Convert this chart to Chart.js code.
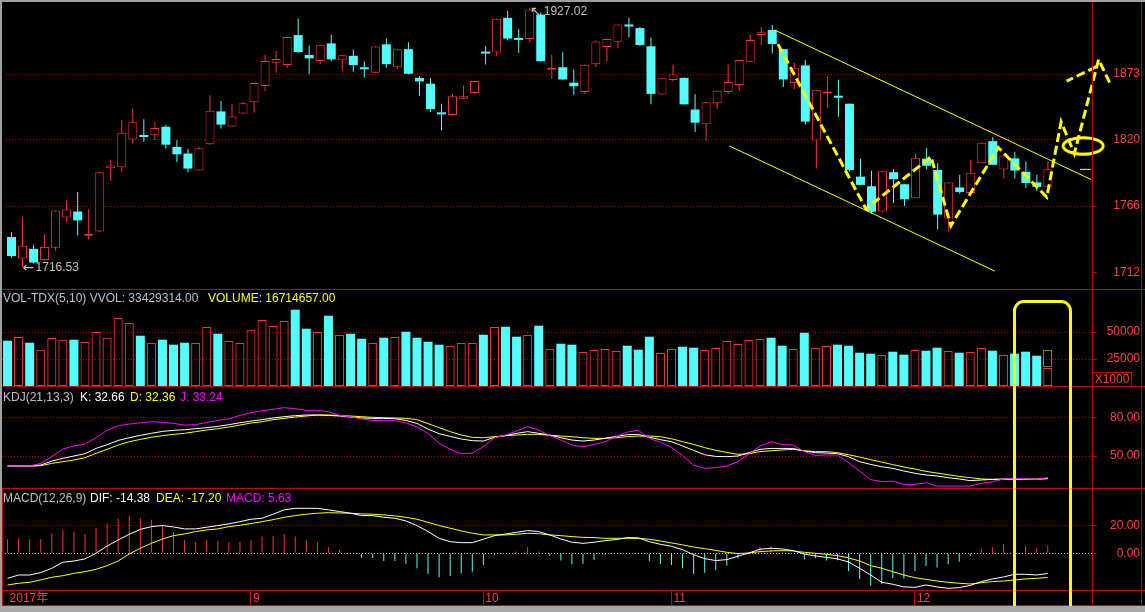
<!DOCTYPE html>
<html>
<head>
<meta charset="utf-8">
<script src="https://cdn.jsdelivr.net/npm/chart.js@4.4.1/dist/chart.umd.min.js"></script>
<style>
  html, body { margin:0; padding:0; background:#000; }
  #wrap { position:relative; width:1145px; height:612px; overflow:hidden; background:#000;
          font-family:'Liberation Sans', Arial, 'Noto Sans CJK SC', sans-serif; font-size:12px; }
  #clip { position:absolute; left:0; top:0; width:1145px; height:606px; overflow:hidden; }
  canvas { position:absolute; left:0; }
  .ln { position:absolute; background:#c80000; }
  .hdr { position:absolute; white-space:pre; font-size:12px; line-height:14px; }
  #hbox { position:absolute; box-sizing:border-box; border:3px solid #ffff00; border-radius:11px 11px 6px 6px; top:300px; height:320px; }
  #x1000 { position:absolute; left:1092px; top:372px; width:40px; height:15px; box-sizing:border-box;
           border:1px solid #c80000; color:#ff4040; font-size:12px; line-height:13px; text-align:center; }
</style>
</head>
<body>
<div id="wrap">
  <div id="clip">
    <canvas id="cPrice" width="1140" height="289" style="top:0px"></canvas>
    <canvas id="cVol" width="1140" height="97" style="top:289px"></canvas>
    <canvas id="cKdj" width="1140" height="102" style="top:386px"></canvas>
    <canvas id="cMacd" width="1140" height="117" style="top:488px"></canvas>

    <div class="ln" style="left:0;top:289px;width:1145px;height:1px"></div>
    <div class="ln" style="left:0;top:386px;width:1145px;height:1px"></div>
    <div class="ln" style="left:0;top:488px;width:1145px;height:1px"></div>
    <div class="ln" style="left:0;top:590px;width:1145px;height:1px"></div>
    <div class="ln" style="left:0;top:605px;width:1145px;height:1px"></div>
    <div class="ln" style="left:1092px;top:0;width:1px;height:606px"></div>
    <div class="ln" style="left:1141px;top:0;width:1px;height:606px"></div>
    <div class="ln" style="left:2px;top:488px;width:1px;height:118px"></div>

    <div class="hdr" id="hVol" style="left:3px;top:291px;color:#c0c0c0"></div>
    <div class="hdr" id="hVolume" style="left:208px;top:291px;color:#ffff00"></div>
    <div class="hdr" style="left:3px;top:390px;color:#c0c0c0">KDJ(21,13,3)</div>
    <div class="hdr" id="hK" style="left:80px;top:390px;color:#ffffff"></div>
    <div class="hdr" id="hD" style="left:130px;top:390px;color:#ffff00"></div>
    <div class="hdr" id="hJ" style="left:180px;top:390px;color:#ff00ff"></div>
    <div class="hdr" style="left:3px;top:491px;color:#c0c0c0">MACD(12,26,9)</div>
    <div class="hdr" id="hDif" style="left:90px;top:491px;color:#ffffff"></div>
    <div class="hdr" id="hDea" style="left:156px;top:491px;color:#ffff00"></div>
    <div class="hdr" id="hMacd" style="left:226px;top:491px;color:#ff00ff"></div>
    <div id="x1000">X1000</div>
    <div id="hbox"></div>
  </div>
  <div style="position:absolute;left:0;top:0;width:1145px;height:2px;background:#a0a0a0"></div>
  <div style="position:absolute;left:0;top:0;width:2px;height:612px;background:#a0a0a0"></div>
  <div style="position:absolute;left:0;top:606px;width:1145px;height:6px;background:#a8a8a8"></div>
</div>
<script>
// ================= DATA =================
const monthTickIdx = [0, 22, 43, 60, 82];
const monthTickLabels = ['2017年', '9', '10', '11', '12'];

const opens = [1740.9,1723.5,1731.3,1722.2,1732.1,1756.7,1761.6,1742.0,1745.3,1796.6,
1797.4,1820.0,1822.5,1823.9,1830.3,1814.0,1808.6,1794.8,1816.1,1842.8,
1830.6,1841.0,1850.3,1863.5,1882.2,1880.4,1904.7,1888.6,1883.7,1898.0,
1884.2,1887.9,1877.5,1874.1,1897.2,1879.1,1893.3,1870.0,1865.3,1841.0,
1839.9,1853.1,1857.8,1890.2,1890.5,1918.7,1901.4,1901.6,1921.3,1876.5,
1878.6,1866.1,1858.6,1881.1,1895.1,1899.3,1912.2,1910.4,1895.6,1856.5,
1868.2,1870.0,1844.3,1832.4,1849.5,1858.6,1864.3,1883.0,1904.7,1908.9,
1893.3,1865.8,1880.1,1819.2,1857.3,1854.7,1849.0,1789.9,1782.1,1761.6,
1793.5,1783.7,1772.3,1804.4,1795.3,1755.9,1781.1,1776.7,1800.8,1818.7,
1795.6,1804.7,1793.8,1785.2,1781.6];
const highs = [1744.8,1757.2,1734.7,1743.2,1762.6,1770.7,1777.4,1763.4,1793.8,1803.1,
1835.8,1845.1,1836.5,1834.2,1831.9,1819.4,1812.4,1814.3,1856.0,1851.3,
1849.0,1850.5,1866.0,1888.6,1891.8,1903.4,1918.2,1896.4,1897.0,1905.0,
1888.6,1893.1,1883.2,1895.6,1901.9,1893.5,1898.8,1871.6,1869.7,1849.0,
1856.8,1863.8,1867.5,1895.6,1918.1,1924.4,1909.6,1927.02,1923.0,1888.6,
1891.0,1877.0,1880.8,1900.3,1901.8,1913.5,1918.7,1911.2,1902.7,1869.9,
1880.9,1870.2,1856.8,1850.5,1859.8,1880.9,1884.7,1905.0,1911.2,1912.8,
1893.5,1882.2,1884.7,1860.6,1871.6,1868.4,1849.2,1804.4,1794.6,1794.5,
1796.1,1783.9,1808.6,1813.2,1800.8,1785.4,1791.5,1803.1,1817.6,1822.0,
1807.2,1810.1,1802.3,1791.5,1802.1];
const lows = [1724.1,1716.53,1719.4,1721.5,1729.5,1752.8,1742.2,1738.8,1745.0,1786.3,
1793.5,1816.6,1818.2,1819.7,1812.7,1801.8,1793.3,1794.6,1815.8,1829.0,
1830.4,1840.8,1841.7,1859.4,1874.1,1878.3,1890.2,1873.3,1881.1,1883.5,
1875.7,1874.9,1870.3,1873.9,1878.3,1877.2,1873.0,1855.2,1842.3,1827.5,
1839.7,1852.9,1857.6,1880.9,1887.9,1900.6,1890.2,1899.0,1883.0,1869.2,
1868.5,1856.3,1857.0,1878.8,1883.5,1894.3,1902.9,1895.9,1848.5,1856.3,
1867.1,1848.3,1826.0,1819.0,1844.9,1857.0,1859.4,1882.8,1896.7,1889.7,
1862.5,1860.7,1832.1,1796.4,1845.4,1838.4,1794.0,1783.0,1759.8,1761.4,
1768.4,1766.1,1772.1,1795.6,1746.9,1745.3,1775.9,1776.5,1800.6,1799.3,
1788.3,1788.3,1780.6,1778.0,1781.4];
const closes = [1725.4,1733.9,1720.2,1732.9,1762.4,1763.2,1754.4,1742.4,1793.5,1799.0,
1825.4,1834.0,1822.0,1829.3,1815.8,1808.0,1796.4,1813.0,1843.3,1832.1,
1838.6,1849.5,1865.8,1883.7,1885.3,1903.2,1891.0,1885.8,1896.9,1885.0,
1888.4,1880.4,1877.0,1895.4,1881.1,1893.3,1873.3,1867.1,1844.6,1840.4,
1855.0,1855.0,1867.4,1889.7,1917.9,1901.9,1900.8,1925.5,1883.5,1877.5,
1868.7,1863.2,1880.6,1899.5,1901.6,1913.3,1911.7,1896.7,1857.0,1869.7,
1872.8,1848.5,1833.7,1850.3,1859.6,1866.6,1884.5,1900.8,1907.0,1897.5,
1868.7,1878.3,1834.5,1860.4,1857.8,1853.9,1795.3,1783.2,1761.4,1794.3,
1787.8,1771.5,1805.2,1798.7,1759.1,1785.2,1777.5,1793.0,1817.4,1799.5,
1807.0,1794.8,1784.7,1781.6,1795.8];

// volume in thousands (axis shows X1000)
const volumes = [41940,45300,40090,33610,44400,42860,42860,40700,49960,44720,
62930,58300,46570,39780,42860,38240,40090,39780,54590,48420,
41630,39780,52120,61080,55520,60150,70650,53050,49960,65080,
47190,48420,43790,39780,44720,45330,50270,44720,41010,38240,
37000,39780,39780,47490,54590,54900,45640,47190,55830,34220,
39160,38240,31450,33300,34220,32370,37310,33610,45640,30520,
34220,36380,35460,33300,35150,41630,38850,42550,43480,44720,
37310,34220,49340,35150,37000,38240,37310,30830,29900,28670,
31760,28980,33300,32680,35460,32370,30830,31450,35150,32680,
28670,29900,31760,28050,16714.657];
const vvolEstimate = 33429.314;

const kValues = [42.2,42.2,42.2,43.0,46.1,48.2,50.0,51.8,55.9,58.8,
62.1,64.2,66.0,67.6,69.1,69.9,70.4,71.2,72.0,73.0,
74.3,75.8,77.1,78.2,79.5,80.5,81.3,81.8,81.8,81.5,
81.0,80.2,79.5,79.2,79.2,78.9,77.6,75.3,70.9,67.3,
65.2,63.2,61.9,61.6,64.5,65.8,67.6,68.9,67.6,66.3,
64.2,62.4,61.6,62.4,63.7,65.2,66.5,66.8,64.5,62.7,
61.1,57.8,54.4,51.0,49.7,49.5,50.0,52.6,55.2,55.9,
55.9,55.9,53.9,52.6,52.3,51.8,49.5,45.6,43.5,41.7,
40.4,38.4,36.6,35.3,34.5,33.2,32.2,30.9,31.4,31.9,
32.2,32.2,31.9,31.9,32.66];
const dValues = [42.2,42.2,42.2,42.5,44.3,45.6,46.9,48.7,52.1,55.2,
58.5,61.1,62.9,64.5,65.8,66.8,67.6,68.9,70.2,71.2,
72.5,74.0,75.6,76.6,78.2,79.2,80.2,81.0,81.8,81.8,
81.5,81.0,80.5,80.0,79.7,79.5,79.2,78.2,75.1,72.0,
68.9,66.3,64.5,64.2,65.0,65.8,66.3,66.8,66.8,66.0,
65.5,65.0,64.2,63.7,63.7,64.2,65.0,65.5,65.5,65.0,
63.4,61.1,59.0,56.5,54.4,52.8,51.3,51.8,53.4,54.1,
54.7,55.2,54.1,53.4,53.4,52.6,51.0,49.2,47.2,45.3,
43.3,41.5,39.9,38.1,36.8,35.5,34.2,33.2,32.2,31.9,
31.9,32.0,32.1,32.2,32.36];
const jValues = [42.2,42.2,42.2,44.3,49.5,55.4,57.8,59.3,64.2,69.9,
73.5,74.8,75.8,76.6,76.1,75.3,74.0,74.3,76.1,77.6,
78.9,81.5,83.6,85.1,86.2,87.5,86.7,85.4,85.4,84.4,
81.5,80.5,78.7,77.6,77.4,77.4,75.8,72.5,67.6,59.8,
55.2,51.8,52.3,57.2,64.2,66.3,69.4,72.7,70.2,65.8,
62.4,58.5,57.2,59.0,61.1,65.0,68.6,69.9,63.7,60.6,
56.7,50.3,43.0,40.4,41.0,42.2,45.6,51.6,57.8,61.1,
59.0,58.5,53.4,50.5,50.8,50.8,44.8,38.4,31.7,30.1,
30.6,28.0,28.0,29.3,26.7,26.7,26.7,26.7,28.8,30.1,
32.2,32.9,32.2,31.9,33.24];

const macdValues = [10.0,10.7,10.0,10.0,14.3,16.7,15.5,13.8,18.1,21.0,
24.8,26.7,25.2,24.0,20.0,15.2,9.5,8.1,9.5,8.8,
7.9,8.1,9.5,11.9,12.4,13.8,11.9,9.5,8.1,4.5,
2.4,0.3,-3.1,-3.3,-5.5,-5.5,-7.4,-10.7,-14.8,-17.1,
-16.2,-14.5,-13.1,-8.3,-1.0,0.3,1.2,4.5,1.2,-1.7,
-5.2,-7.9,-7.4,-4.8,-1.4,-0.3,0.7,-0.5,-5.5,-7.6,
-8.3,-10.7,-14.8,-13.8,-11.9,-8.8,-3.8,0.5,4.5,5.2,
1.0,0.5,-4.5,-3.6,-5.2,-5.0,-12.6,-18.3,-23.1,-21.9,
-17.9,-18.1,-12.6,-9.0,-10.2,-7.9,-6.0,-1.9,3.1,4.5,
6.7,6.7,5.2,3.8,5.63];
const difValues = [-17.9,-15.5,-15.5,-13.8,-10.7,-6.4,-5.5,-4.0,0.0,5.2,
9.5,13.6,17.1,19.0,19.8,18.8,17.4,17.4,18.6,19.8,
21.0,22.6,24.3,25.0,27.9,31.0,32.1,32.1,32.1,31.0,
29.8,28.6,26.9,26.9,25.7,25.0,23.1,19.8,15.5,10.7,
8.3,7.6,7.6,10.0,12.6,13.8,15.0,16.2,15.5,13.1,
10.2,7.9,7.1,7.9,9.0,9.8,11.2,11.0,8.3,6.4,
5.0,2.6,-1.0,-3.8,-5.2,-4.5,-2.1,0.2,2.9,3.6,
3.1,1.9,-0.5,-1.9,-2.9,-4.0,-6.2,-10.7,-15.5,-20.7,
-22.1,-24.0,-24.3,-22.6,-24.0,-25.0,-24.5,-22.9,-20.2,-18.3,
-16.9,-15.0,-15.0,-15.5,-14.38];
const deaValues = [-22.6,-21.4,-20.7,-19.0,-17.1,-16.0,-14.3,-13.1,-11.4,-8.8,
-5.5,-0.5,3.6,7.1,10.2,12.6,13.8,15.5,16.7,17.4,
19.0,20.0,21.2,22.6,24.0,25.7,26.9,27.9,28.6,29.0,
28.8,28.6,28.1,27.9,27.4,26.7,25.7,24.3,22.1,19.8,
17.9,16.0,14.3,13.1,13.1,13.1,13.6,14.3,14.0,13.1,
12.6,11.9,11.4,11.2,10.7,10.7,10.7,10.7,10.0,8.8,
7.4,6.0,4.5,3.3,2.1,0.7,-0.2,0.2,1.2,1.7,
1.9,1.7,0.7,0.0,-0.7,-1.7,-3.3,-5.5,-8.8,-10.7,
-13.1,-15.5,-17.4,-18.6,-19.8,-20.7,-21.4,-21.9,-21.0,-20.2,
-19.8,-19.0,-18.3,-17.9,-17.20];

const priceTicks = [1712, 1766, 1820, 1873];
const volumeTicks = [25000, 50000];
const kdjTicks = [50, 80];
const macdTicks = [0, 20];

// hand-drawn annotations (in candle-index / price coordinates)
const channelUpper = [{x: 69.2, y: 1908.9}, {x: 97.9, y: 1787.6}];
const channelLower = [{x: 65.1, y: 1814.8}, {x: 89.2, y: 1713.2}];
const forecastPath = [{x: 69.4, y: 1899.3}, {x: 77.5, y: 1763.7}, {x: 83.4, y: 1806.0},
  {x: 85.2, y: 1750.0}, {x: 89.5, y: 1813.5}, {x: 93.9, y: 1773.3}, {x: 95.2, y: 1834.4},
  {x: 96.4, y: 1808.6}, {x: 98.6, y: 1885.0}, {x: 99.6, y: 1866.1}];
const forecastArm = [{x: 95.7, y: 1867.4}, {x: 98.4, y: 1879.1}];
const targetMark = {x: 97.2, y: 1814.8};
const closeMarkSpan = [96.9, 97.9];
const highlightSpan = [90.96, 96.07];

// ================= STYLE =================
const RED = '#ff3232', CYAN = '#54fcfc', YEL = '#ffff00', MAG = '#ff00ff', WHITE = '#ffffff';
const FRAME = '#c80000', GRID = '#b00000', LABEL = '#ff4040';
const FONT = "'Liberation Sans', Arial, 'Noto Sans CJK SC', sans-serif";
Chart.defaults.font.family = FONT;
Chart.defaults.font.size = 12;
Chart.defaults.animation = false;
Chart.defaults.events = [];

const N = opens.length;
const isUp = i => i !== undefined && closes[i] >= opens[i];
const pts = arr => arr.map((v, i) => ({x: i, y: v}));

function xAxis(show) {
  return {
    type: 'linear', min: -0.5, max: 98, bounds: 'data', offset: false, display: show,
    grid: { offset: false, drawOnChartArea: false, drawTicks: true, tickLength: 15,
            tickColor: c => (c.tick && c.tick.value === 0) ? 'rgba(0,0,0,0)' : FRAME, tickWidth: 1 },
    border: { display: false },
    afterBuildTicks: s => { s.ticks = monthTickIdx.map(v => ({value: v})); },
    afterFit: s => { if (show) s.height = 15; s.paddingLeft = 0; s.paddingRight = 0; },
    ticks: { color: LABEL, align: 'start', padding: -14, maxRotation: 0, minRotation: 0, autoSkip: false,
             labelOffset: 2, font: {size: 12},
             callback: v => monthTickLabels[monthTickIdx.indexOf(v)] }
  };
}
function yAxis(min, max, ticks, fmt, gridColor) {
  return {
    type: 'linear', position: 'right', min, max, bounds: 'data', beginAtZero: false,
    afterBuildTicks: s => { s.ticks = ticks.map(v => ({value: v})); },
    afterFit: s => { s.width = 48; s.paddingTop = 0; s.paddingBottom = 0; },
    ticks: { color: LABEL, padding: 4, crossAlign: 'far', autoSkip: false, font: {size: 12}, callback: v => fmt(v) },
    grid: { color: gridColor || GRID, lineWidth: 1, drawTicks: true, tickLength: 5, tickColor: FRAME, tickWidth: 1 },
    border: { display: false, dash: [1, 2] }
  };
}
function opts(yCfg, showX) {
  return {
    responsive: false, maintainAspectRatio: false, animation: false,
    layout: { padding: { left: 2, right: 0, top: 0, bottom: 0 } },
    plugins: { legend: {display: false}, tooltip: {enabled: false} },
    scales: { x: xAxis(showX), y: yCfg }
  };
}

// ellipse marker style
const ell = document.createElement('canvas');
ell.width = 46; ell.height = 22;
(function () { const c = ell.getContext('2d'); c.strokeStyle = YEL; c.lineWidth = 3;
  c.beginPath(); c.ellipse(23, 11, 20, 8.3, 0, 0, Math.PI * 2); c.stroke(); })();

const extremeLabels = {
  id: 'extremeLabels',
  afterDatasetsDraw(chart) {
    const {ctx, chartArea} = chart; const x = chart.scales.x, y = chart.scales.y;
    const hi = highs.indexOf(Math.max(...highs));
    const lo = lows.indexOf(Math.min(...lows));
    ctx.save();
    ctx.fillStyle = '#c0c0c0';
    ctx.textBaseline = 'middle'; ctx.textAlign = 'left';
    const hx = x.getPixelForValue(hi), hy = Math.max(y.getPixelForValue(highs[hi]), chartArea.top + 6);
    const lx = x.getPixelForValue(lo), ly = y.getPixelForValue(lows[lo]) + 1;
    ctx.font = "14px 'DejaVu Sans', sans-serif";
    ctx.fillText('\u2196', hx, hy);
    ctx.fillText('\u2190', lx, ly);
    ctx.font = '12px ' + FONT;
    ctx.fillText(highs[hi].toFixed(2), hx + 14, hy);
    ctx.fillText(lows[lo].toFixed(2), lx + 13, ly);
    ctx.restore();
  }
};

const priceChart = new Chart(document.getElementById('cPrice'), {
  type: 'bar',
  data: { datasets: [
    { type: 'line', order: 0, data: forecastPath.slice().reverse(), borderColor: YEL, borderWidth: 3,
      borderDash: [9, 4], pointRadius: 0, tension: 0, clip: false, fill: false },
    { type: 'line', order: 0, data: forecastArm.slice().reverse(), borderColor: YEL, borderWidth: 3,
      borderDash: [9, 4], pointRadius: 0, tension: 0, clip: false, fill: false },
    { type: 'line', order: 0, data: [targetMark], showLine: false, pointStyle: ell, pointRadius: 5, clip: false },
    { type: 'line', order: 0, data: channelUpper, borderColor: YEL, borderWidth: 1, pointRadius: 0, tension: 0, clip: false },
    { type: 'line', order: 0, data: channelLower, borderColor: YEL, borderWidth: 1, pointRadius: 0, tension: 0, clip: false },
    { type: 'line', order: 0, data: closeMarkSpan.map(v => ({x: v, y: closes[N - 1]})), borderColor: YEL, borderWidth: 1, pointRadius: 0, clip: false },
    { type: 'bar', order: 1, grouped: false, data: opens.map((o, i) => ({x: i, y: [o, closes[i]]})),
      backgroundColor: c => isUp(c.dataIndex) ? '#000000' : CYAN,
      borderColor: c => isUp(c.dataIndex) ? RED : CYAN,
      borderWidth: c => isUp(c.dataIndex) ? 1 : 0,
      borderSkipped: false, barThickness: 9, minBarLength: 2, inflateAmount: 0 },
    { type: 'bar', order: 2, grouped: false, data: lows.map((l, i) => ({x: i, y: [l, highs[i]]})),
      backgroundColor: c => isUp(c.dataIndex) ? RED : CYAN, borderWidth: 0,
      borderSkipped: false, barThickness: 1, inflateAmount: 0 }
  ]},
  options: opts(yAxis(1703.6, 1928.3, priceTicks, v => String(v),
                      c => (c.tick && c.tick.value === 1712) ? 'rgba(0,0,0,0)' : GRID), false),
  plugins: [extremeLabels]
});

const vvolBox = {
  id: 'vvolBox',
  afterDatasetsDraw(chart) {
    const {ctx} = chart; const x = chart.scales.x, y = chart.scales.y;
    const i = volumes.length - 1;
    const cx = x.getPixelForValue(i);
    const top = y.getPixelForValue(vvolEstimate), bot = y.getPixelForValue(volumes[i]);
    ctx.save(); ctx.strokeStyle = YEL; ctx.lineWidth = 1; ctx.setLineDash([1, 1]);
    ctx.strokeRect(Math.round(cx - 4.5) + 0.5, Math.round(top) + 0.5, 8, Math.round(bot - top) - 2);
    ctx.restore();
  }
};

new Chart(document.getElementById('cVol'), {
  type: 'bar',
  data: { datasets: [
    { data: pts(volumes), grouped: false,
      backgroundColor: c => isUp(c.dataIndex) ? 'rgba(0,0,0,0)' : CYAN,
      borderColor: c => isUp(c.dataIndex) ? RED : CYAN,
      borderWidth: c => isUp(c.dataIndex) ? 1 : 0,
      borderSkipped: false, barThickness: 9, inflateAmount: 0 }
  ]},
  options: opts(yAxis(0, 97 / 27 * 25000, volumeTicks, v => String(v)), false),
  plugins: [vvolBox]
});

new Chart(document.getElementById('cKdj'), {
  type: 'line',
  data: { datasets: [
    { data: pts(jValues), borderColor: MAG, borderWidth: 1, pointRadius: 0, tension: 0 },
    { data: pts(kValues), borderColor: WHITE, borderWidth: 1, pointRadius: 0, tension: 0 },
    { data: pts(dValues), borderColor: YEL, borderWidth: 1, pointRadius: 0, tension: 0 }
  ]},
  options: opts(yAxis(25.2, 104.3, kdjTicks, v => v.toFixed(2)), false)
});

new Chart(document.getElementById('cMacd'), {
  type: 'bar',
  data: { datasets: [
    { type: 'line', order: 0, data: pts(difValues), borderColor: WHITE, borderWidth: 1, pointRadius: 0, tension: 0 },
    { type: 'line', order: 1, data: pts(deaValues), borderColor: YEL, borderWidth: 1, pointRadius: 0, tension: 0 },
    { type: 'bar', order: 2, grouped: false, data: pts(macdValues),
      backgroundColor: c => (macdValues[c.dataIndex] >= 0) ? RED : CYAN, borderWidth: 0,
      borderSkipped: false, barThickness: 1, inflateAmount: 0 }
  ]},
  options: opts(yAxis(-26.2, 46.6, macdTicks, v => v.toFixed(2),
                      c => (c.tick && c.tick.value === 0) ? '#c8c8c8' : GRID), true)
});

// header readouts
const fmt2 = v => v.toFixed(2);
document.getElementById('hVol').textContent = 'VOL-TDX(5,10) VVOL: ' + (vvolEstimate * 1000).toFixed(2);
document.getElementById('hVolume').textContent = 'VOLUME: ' + (volumes[N - 1] * 1000).toFixed(2);
document.getElementById('hK').textContent = 'K: ' + fmt2(kValues[N - 1]);
document.getElementById('hD').textContent = 'D: ' + fmt2(dValues[N - 1]);
document.getElementById('hJ').textContent = 'J: ' + fmt2(jValues[N - 1]);
document.getElementById('hDif').textContent = 'DIF: ' + fmt2(difValues[N - 1]);
document.getElementById('hDea').textContent = 'DEA: ' + fmt2(deaValues[N - 1]);
document.getElementById('hMacd').textContent = 'MACD: ' + fmt2(macdValues[N - 1]);

// highlight box positioned from the x scale
const xs = priceChart.scales.x;
const hl = xs.getPixelForValue(highlightSpan[0]), hr = xs.getPixelForValue(highlightSpan[1]);
const hb = document.getElementById('hbox');
hb.style.left = (hl - 1.5) + 'px';
hb.style.width = (hr - hl + 3) + 'px';
</script>
</body>
</html>
